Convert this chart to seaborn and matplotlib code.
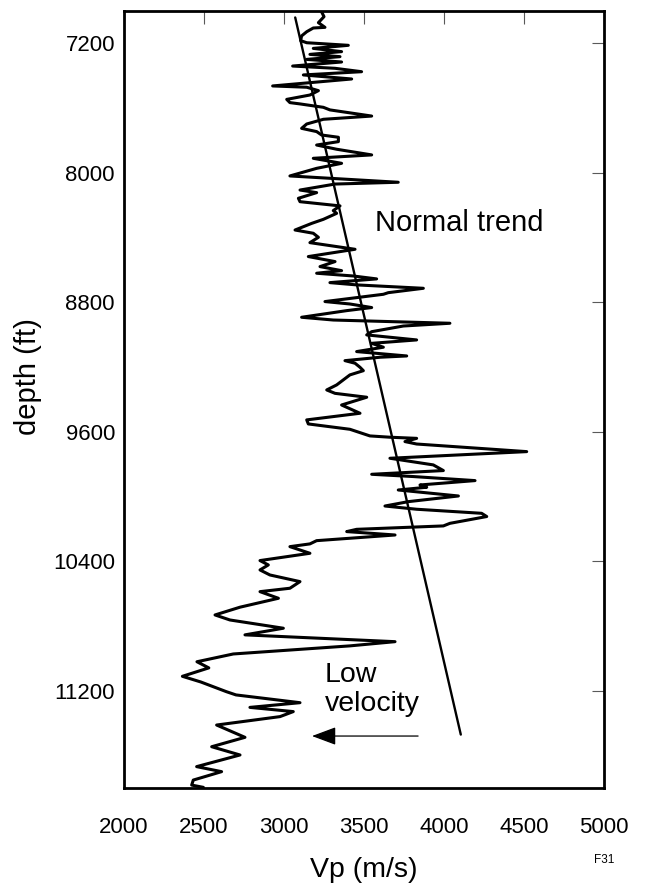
import matplotlib
matplotlib.use("Agg")
import matplotlib.pyplot as plt
import seaborn as sns

# sonic log, top to bottom
vp = [3235, 3250, 3215, 3256, 3183, 3142, 3110, 3104, 3142, 3402,
      3183, 3360, 3162, 3350, 3142, 3360, 3054, 3319, 3485, 3121,
      3423, 2929, 3142, 3215, 3162, 3017, 3037, 3100, 3246, 3287,
      3548, 3246, 3142, 3110, 3204, 3235, 3340, 3340, 3204, 3329,
      3548, 3183, 3360, 3204, 3037, 3298, 3714, 3319, 3100, 3204,
      3090, 3100, 3350, 3308, 3329, 3246, 3173, 3069, 3183, 3215,
      3162, 3444, 3152, 3319, 3225, 3360, 3204, 3433, 3579, 3287,
      3454, 3871, 3652, 3621, 3256, 3412, 3548, 3392, 3110, 3308,
      4037, 3746, 3548, 3517, 3829, 3548, 3621, 3454, 3767, 3600,
      3381, 3444, 3475, 3496, 3412, 3371, 3329, 3267, 3319, 3517,
      3360, 3475, 3142, 3152, 3412, 3537, 3662, 3829, 3756, 3829,
      4517, 3662, 3933, 3996, 3548, 3808, 4194, 3850, 3892, 3714,
      4090, 3777, 3631, 3829, 4235, 4267, 4037, 3996, 3454, 3392,
      3694, 3204, 3162, 3037, 3162, 2850, 2902, 2850, 2912, 3100,
      3037, 2850, 2965, 2725, 2569, 2662, 2996, 2756, 3694, 3412,
      2683, 2456, 2530, 2365, 2480, 2640, 2700, 3100, 2787, 3058,
      2975, 2579, 2756, 2548, 2725, 2454, 2610, 2433, 2423, 2496]
depth = [7005, 7035, 7072, 7101, 7105, 7128, 7154, 7183, 7196, 7212,
         7231, 7251, 7268, 7282, 7299, 7315, 7340, 7354, 7375, 7395,
         7420, 7463, 7471, 7492, 7519, 7546, 7566, 7574, 7595, 7611,
         7649, 7669, 7698, 7725, 7745, 7766, 7780, 7807, 7828, 7854,
         7889, 7910, 7941, 7972, 8019, 8034, 8058, 8069, 8106, 8122,
         8157, 8178, 8204, 8233, 8250, 8287, 8312, 8353, 8373, 8398,
         8431, 8472, 8517, 8548, 8579, 8604, 8620, 8637, 8655, 8678,
         8692, 8713, 8740, 8750, 8795, 8810, 8832, 8851, 8892, 8909,
         8929, 8946, 8981, 9001, 9032, 9053, 9077, 9104, 9131, 9139,
         9160, 9176, 9201, 9222, 9248, 9279, 9310, 9341, 9362, 9386,
         9434, 9485, 9526, 9551, 9584, 9625, 9633, 9640, 9660, 9675,
         9722, 9763, 9804, 9839, 9862, 9876, 9901, 9928, 9942, 9959,
         9996, 10031, 10058, 10078, 10103, 10123, 10165, 10181, 10202, 10216,
         10237, 10272, 10292, 10309, 10350, 10395, 10422, 10453, 10484, 10525,
         10566, 10587, 10628, 10683, 10731, 10762, 10813, 10854, 10896, 10922,
         10972, 11020, 11058, 11110, 11145, 11205, 11225, 11273, 11302, 11328,
         11359, 11411, 11487, 11545, 11596, 11668, 11699, 11751, 11782, 11796]

trend_vp = [3070, 4105]
trend_depth = [7040, 11470]

x_ticks = [2000, 2500, 3000, 3500, 4000, 4500, 5000]
y_ticks = [7200, 8000, 8800, 9600, 10400, 11200]

sns.set_style("white")
plt.rcParams["font.family"] = ["Liberation Sans", "DejaVu Sans"]
plt.rcParams["text.color"] = "black"
plt.rcParams["axes.labelcolor"] = "black"

fig, ax = plt.subplots(figsize=(6.45, 8.85), dpi=100)
fig.subplots_adjust(left=124 / 645, right=604 / 645,
                    top=1 - 11 / 885, bottom=1 - 788 / 885)

sns.lineplot(x=vp, y=depth, sort=False, estimator=None, color="black",
             lw=2.2, ax=ax, solid_joinstyle="round", solid_capstyle="round")
sns.lineplot(x=trend_vp, y=trend_depth, sort=False, estimator=None,
             color="black", lw=1.7, ax=ax)

ax.set_xlim(2000, 5000)
ax.set_ylim(11800, 7000)
ax.set_xticks(x_ticks)
ax.set_yticks(y_ticks)

for s in ax.spines.values():
    s.set_linewidth(2.0)
    s.set_color("black")

ax.tick_params(direction="in", length=9, width=0.8, color="0.35",
               top=True, right=True, labelsize=16, labelcolor="black")
ax.tick_params(axis="x", pad=21)
ax.tick_params(axis="y", pad=6.5)

ax.set_xlabel("Vp (m/s)", fontsize=20.5)
ax.xaxis.set_label_coords(0.5, -0.0888)
ax.set_ylabel("depth (ft)", fontsize=21)
ax.yaxis.set_label_coords(-0.171, 0.529)

ax.text(3569, 8359, "Normal trend", fontsize=21, ha="left", va="baseline")
ax.text(3256, 11143, "Low", fontsize=20.5, ha="left", va="baseline")
ax.text(3256, 11324, "velocity", fontsize=20.5, ha="left", va="baseline")

ax.annotate("", xy=(3175, 11479), xytext=(3838, 11479),
            arrowprops=dict(arrowstyle="-|>,head_length=0.75,head_width=0.28",
                            color="black", lw=0.9, mutation_scale=20,
                            shrinkA=0, shrinkB=0))

fig.text(604 / 645, 1 - 860 / 885, "F31", fontsize=8.5, ha="center", va="center")

fig.savefig("out.png", dpi=100)
